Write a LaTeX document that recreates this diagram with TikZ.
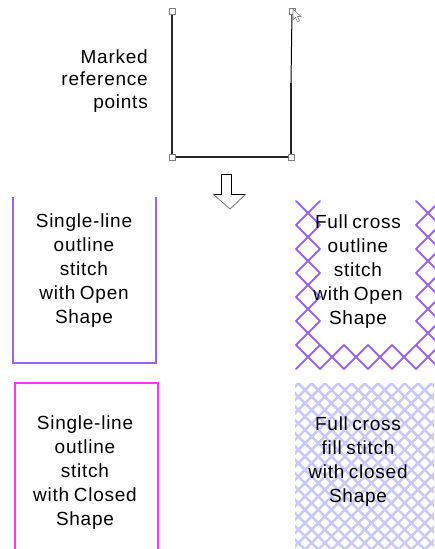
\documentclass[tikz,border=0pt]{standalone}
\usepackage{fontspec}
\setmainfont[LetterSpace=4, WordSpace=0.75]{Liberation Sans}
\usepackage{xcolor}
\usetikzlibrary{positioning}

\definecolor{stitchpurple}{RGB}{155,100,245}
\definecolor{stitchpink}{RGB}{255,51,255}
\definecolor{gridblue}{RGB}{202,202,246}

\begin{document}
\begin{tikzpicture}[
  x=1pt, y=-1pt,
  marker/.style={draw=gray, fill=white, line width=0.8pt, minimum size=6pt,
    inner sep=0pt},
  outline/.style={line width=1.4pt, black!85},
  label/.style={align=center, inner sep=0pt, font=\fontsize{19}{24}\selectfont},
  openline/.style={line width=2pt, stitchpurple},
  closedline/.style={line width=2pt, stitchpink},
  xstitch/.style={line width=2pt, stitchpurple, line cap=round},
  fillgrid/.style={line width=2.6pt, gridblue}
]
\useasboundingbox (0,0) rectangle (434,549);

% reference shape with its marked points
\draw[outline] (172,11) -- (172,157) -- (291,157) -- (291,83);
\draw[line width=1pt, black] (291,83) -- (292,11);
\node[marker] (tl) at (172,11) {};
\node[marker] (bl) at (172,157) {};
\node[marker] (br) at (291,157) {};
\node[marker] (tr) at (292,11) {};
\draw[fill=white, draw=gray, line width=0.6pt] (293,9) -- (293,20) -- (295.5,17.5)
  -- (297.5,22) -- (299.5,21) -- (297.5,16.5) -- (301,16.5) -- cycle;
\node[label, align=right, anchor=east, font=\fontsize{19}{22.5}\selectfont]
  (marked) at (148,81) {Marked\\reference\\points};

% hollow arrow
\draw[black, line width=0.9pt] (213,194) -- (221,194) -- (221,174) -- (231,174)
  -- (231,194) -- (246,194);
\draw[gray, line width=0.9pt] (246,194) -- (230,209) -- (213,194);

% single-line, open
\draw[openline] (13,197) -- (13,363) -- (156,363) -- (156,197);
\node[label] (openone) at (84,271) {Single-line\\outline\\stitch\\with Open\\Shape};

% full cross, open: one X per 24pt cell
\foreach \cx/\cy in {308/213, 308/237, 308/261, 308/285, 308/309, 308/333, 308/357,
    332/357, 356/357, 380/357, 404/357,
    428/213, 428/237, 428/261, 428/285, 428/309, 428/333, 428/357} {
  \draw[xstitch] (\cx-12,\cy-12) -- (\cx+12,\cy+12);
  \draw[xstitch] (\cx+12,\cy-12) -- (\cx-12,\cy+12);
}
\node[label] (crossone) at (358,272) {Full cross\\outline\\stitch\\with Open\\Shape};

% single-line, closed
\draw[closedline] (15,383) rectangle (158,549.5);
\node[label] (closedone) at (85,473) {Single-line\\outline\\stitch\\with Closed\\Shape};

% full cross fill, closed
\begin{scope}
  \clip (295,383) rectangle (434,549);
  \foreach \k in {-3,...,24}
    \draw[fillgrid] ({695+13.3*\k-383},383) -- ({695+13.3*\k-549},549);
  \foreach \k in {-14,...,12}
    \draw[fillgrid] ({-85+13.3*\k+383},383) -- ({-85+13.3*\k+549},549);
\end{scope}
\node[label] (crosstwo) at (358,462) {Full cross\\fill stitch\\with closed\\Shape};
\end{tikzpicture}
\end{document}
